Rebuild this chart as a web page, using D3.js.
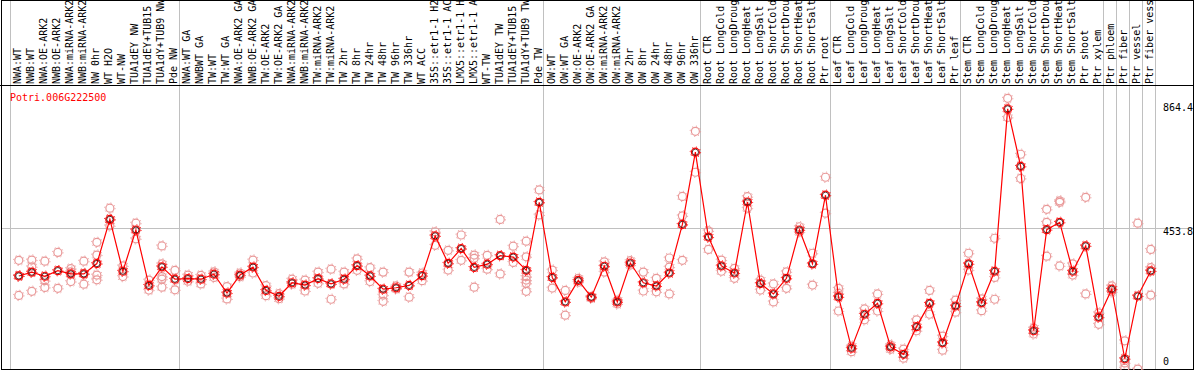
<!DOCTYPE html>
<html>
<head>
<meta charset="utf-8">
<script src="https://cdn.jsdelivr.net/npm/d3@7"></script>
<style>
  body { margin: 0; background: #fff; }
  text { font-family: "DejaVu Sans Mono", monospace; font-size: 10px; }
</style>
</head>
<body>
<div id="chart"></div>
<script>
var W = 1194, H = 370;

// sample names, one per column
var labels = ["NWA:WT","NWB:WT","NWA:OE-ARK2","NWB:OE-ARK2","NWA:miRNA-ARK2","NWB:miRNA-ARK2","NW 0hr","WT H2O","WT-NW","TUA1dEY NW",
  "TUA1dEY+TUB15","TUA1dY+TUB9 NW","Pde NW","NWA:WT GA","NWBWT GA","TW:WT","TW:WT GA","NWA:OE-ARK2 GA","NWB:OE-ARK2 GA","TW:OE-ARK2",
  "TW:OE-ARK2 GA","NWA:miRNA-ARK2","NWB:miRNA-ARK2","TW:miRNA-ARK2","TW:miRNA-ARK2","TW 2hr","TW 8hr","TW 24hr","TW 48hr","TW 96hr",
  "TW 336hr","WT ACC","35S::etr1-1 H2O","35S::etr1-1 ACC","LMX5::etr1-1 H2O","LMX5::etr1-1 ACC","WT-TW","TUA1dEY TW","TUA1dEY+TUB15","TUA1dY+TUB9 TW",
  "Pde TW","OW:WT","OW:WT GA","OW:OE-ARK2","OW:OE-ARK2 GA","OW:miRNA-ARK2","OW:miRNA-ARK2","OW 2hr","OW 8hr","OW 24hr",
  "OW 48hr","OW 96hr","OW 336hr","Root CTR","Root LongCold","Root LongDrought","Root LongHeat","Root LongSalt","Root ShortCold","Root ShortDrought",
  "Root ShortHeat","Root ShortSalt","Ptr root","Leaf CTR","Leaf LongCold","Leaf LongDrought","Leaf LongHeat","Leaf LongSalt","Leaf ShortCold","Leaf ShortDrought",
  "Leaf ShortHeat","Leaf ShortSalt","Ptr leaf","Stem CTR","Stem LongCold","Stem LongDrought","Stem LongHeat","Stem LongSalt","Stem ShortCold","Stem ShortDrought",
  "Stem ShortHeat","Stem ShortSalt","Ptr shoot","Ptr xylem","Ptr phloem","Ptr fiber","Ptr vessel","Ptr fiber vessel"];

// mean expression per sample
var means = [291,304,290,309,298,298,333,483,307,447,
  259,322,280,282,280,297,233,294,321,242,
  222,268,260,282,264,280,326,291,246,251,
  259,292,427,334,384,320,331,360,355,310,
  541,286,203,276,219,324,203,335,268,257,
  301,466,711,423,325,301,542,265,230,283,
  447,332,565,220,46,161,198,50,25,119,
  198,64,189,332,200,307,858,663,105,448,
  473,307,393,151,246,10,223,308];

// replicate values per sample
var reps = [[344,291,225],[345,322,239],[341,275,252],[371,249],[316,305,272],[341,263,300],[405,362,294,278],[521,483,461],[325,289],[470,417],
  [277,243],[393,332,289,280,253],[310,244],[294,273],[293,264],[305,286],[255,213],[301,288],[345,301],[258,224],
  [231,214],[280,263],[277,240],[304,266],[314,212],[304,264],[349,310],[319,272],[304,226,205],[247,257],
  [304,219],[301,275],[441,395],[378,311],[430,344],[362,351,253],[361,314],[483,298],[392,337],[409,356,289,277,266,239],
  [583,498],[311,250],[242,158],[283,270],[222,215],[339,304],[209,196],[343,328],[304,240],[283,237],
  [352,321,230],[561,495,344],[782,643],[444,381],[345,307],[317,283],[560,521],[277,243],[264,203],[305,249],
  [458,440],[368,260],[626,504],[249,232,172],[34,53],[179,142],[230,172],[42,57],[43,12],[142,105],
  [242,161],[87,39],[209,168],[368,311],[213,173],[419,286,212],[894,829],[704,622],[94,114],[517,473,358],
  [546,541,325],[332,294],[558,230],[166,127],[257,237],[71,-4,-22],[470,-25],[381,319,226]];

// columns where a new group starts (vertical separators)
var groupBreaks = [0, 13, 41, 53, 63, 73, 84, 85, 86, 87, 88];
var yTicks = [864.4, 453.8, 0];
var geneName = "Potri.006G222500";

var svg = d3.select("#chart").append("svg").attr("width", W).attr("height", H);

var x = d3.scaleBand().domain(d3.range(labels.length)).range([10.5, 1155.5]).padding(0);
var y = d3.scaleLinear().domain([0, 864.4]).range([361.7, 107]);
var px = function (i) { return x(i) + 8.3; };

// vertical group separators
svg.selectAll("line.vg").data(groupBreaks).enter().append("line")
  .attr("x1", function (d) { var v = d < labels.length ? x(d) : x.range()[1]; return Math.floor(v) + 0.5; })
  .attr("x2", function (d) { var v = d < labels.length ? x(d) : x.range()[1]; return Math.floor(v) + 0.5; })
  .attr("y1", 0).attr("y2", H)
  .style("stroke", "#c0c0c0").style("stroke-width", 1);

// horizontal grid line at the middle tick
svg.append("line")
  .attr("x1", 1).attr("x2", W).attr("y1", Math.round(y(453.8)) + 0.5).attr("y2", Math.round(y(453.8)) + 0.5)
  .style("stroke", "#c0c0c0");

// frame
svg.append("rect").attr("x", 1.5).attr("y", 0.5).attr("width", W - 2).attr("height", 369)
  .style("fill", "none").style("stroke", "#000");
svg.append("line").attr("x1", 0).attr("x2", W).attr("y1", 85.5).attr("y2", 85.5).style("stroke", "#000");

// rotated sample labels
svg.selectAll("text.lab").data(labels).enter().append("text")
  .attr("transform", function (d, i) { return "translate(" + (px(i) + 2.5) + ",84) rotate(-90)"; })
  .style("fill", "#000")
  .text(function (d) { return d; });

// gene name
svg.append("text").attr("x", 10).attr("y", 101).style("fill", "#ff0000").text(geneName);

// right axis labels
svg.selectAll("text.yt").data(yTicks).enter().append("text")
  .attr("x", 1163)
  .attr("y", function (d) { return y(d) + (d === 453.8 ? 7.5 : 3.5); })
  .style("fill", "#000")
  .text(function (d) { return d === 0 ? "0" : d3.format(".1f")(d); });

// replicate points
var repPts = [];
reps.forEach(function (r, i) { r.forEach(function (v) { repPts.push({ i: i, v: v }); }); });

function marker(g, pts, color, cls) {
  g.selectAll("circle." + cls + "t").data(pts).enter().append("circle")
    .attr("cx", function (d) { return px(d.i); })
    .attr("cy", function (d) { return y(d.v); })
    .attr("r", 5.2)
    .style("fill", "none").style("stroke", color).style("stroke-width", 1)
    .style("stroke-dasharray", "1.1 2.98");
  g.selectAll("circle." + cls).data(pts).enter().append("circle")
    .attr("cx", function (d) { return px(d.i); })
    .attr("cy", function (d) { return y(d.v); })
    .attr("r", 4)
    .style("fill", "none").style("stroke", color).style("stroke-width", 1.2);
}

var gRep = svg.append("g");
marker(gRep, repPts, "#e99898", "rp");

// mean line
svg.append("path")
  .datum(means)
  .attr("d", d3.line().x(function (d, i) { return px(i); }).y(function (d) { return y(d); }))
  .style("fill", "none").style("stroke", "#ff0000").style("stroke-width", 1.2);

// mean markers
var meanPts = means.map(function (v, i) { return { i: i, v: v }; });
var gMean = svg.append("g");
marker(gMean, meanPts, "#ff0000", "mn");
gMean.selectAll("circle.inner").data(meanPts).enter().append("circle")
  .attr("cx", function (d) { return px(d.i); })
  .attr("cy", function (d) { return y(d.v); })
  .attr("r", 3.1)
  .style("fill", "none").style("stroke", "#300000").style("stroke-width", 0.8);
</script>
</body>
</html>
